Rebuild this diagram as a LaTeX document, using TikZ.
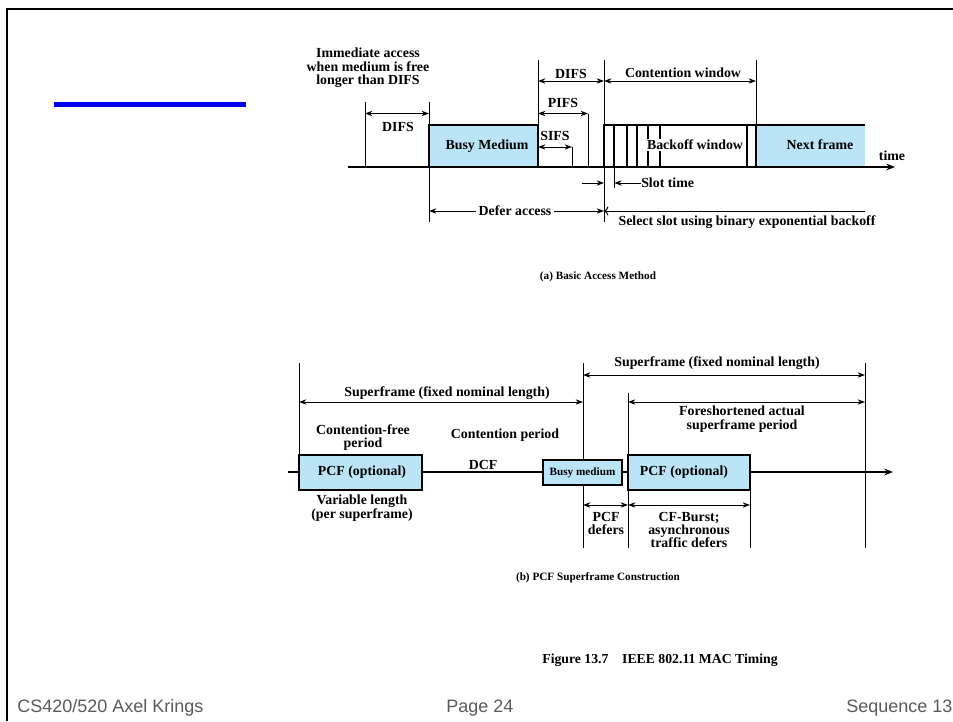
\documentclass[tikz,border=0pt]{standalone}
\usepackage{fontspec}
\setmainfont{Liberation Serif}
\newfontfamily\slidefont{Liberation Sans}
\usetikzlibrary{arrows.meta, positioning}
\definecolor{busyblue}{RGB}{187,228,246}
\definecolor{barblue}{RGB}{0,0,240}
\definecolor{footgray}{RGB}{90,90,90}

\begin{document}
\begin{tikzpicture}[
  x=0.75pt, y=-0.75pt,
  lbl/.style={font=\fontsize{10.4}{10}\selectfont\bfseries, align=center, inner sep=0pt},
  small/.style={font=\fontsize{8.4}{10}\selectfont\bfseries, align=center, inner sep=0pt},
  foot/.style={font=\slidefont\fontsize{13.5}{14}\selectfont, text=footgray, inner sep=0pt},
  frame/.style={draw, line width=1.8pt},
  axis/.style={line width=1.7pt, -{Stealth[length=6.5pt,width=5pt]}},
  tick/.style={line width=0.75pt},
  slotline/.style={line width=1.3pt},
  dim/.style={line width=0.75pt, {Stealth[length=5.5pt,width=4pt]}-{Stealth[length=5.5pt,width=4pt]}},
  rdim/.style={line width=0.75pt, -{Stealth[length=5.5pt,width=4pt]}}
]
\useasboundingbox (0,0) rectangle (953,721);

% slide frame and title bar
\draw[line width=1.7pt] (953,9) -- (7,9) -- (7,721);
\fill[barblue] (54,102) rectangle (246,107);

% (a) basic access method
\coordinate (axL) at (348,167);
\coordinate (axR) at (895,167);
\coordinate (tA) at (365,167);
\coordinate (tB) at (429,167);
\coordinate (tC) at (538,167);
\coordinate (tS) at (572,167);
\coordinate (tP) at (588,167);
\coordinate (tD) at (604,167);
\coordinate (tQ) at (614.3,167);
\coordinate (tW) at (756,167);
\coordinate (tN) at (865,167);
\coordinate (rTop) at (0,60);
\coordinate (rCw) at (0,81);
\coordinate (rLeft) at (0,102);
\coordinate (rDifs) at (0,113.5);
\coordinate (rBox) at (0,125);
\coordinate (rSifs) at (0,147);
\coordinate (rSlot) at (0,183);
\coordinate (rSlotEnd) at (0,188);
\coordinate (rDefer) at (0,211);
\coordinate (rBot) at (0,222);

\fill[busyblue] (tB |- rBox) rectangle (tC);
\fill[busyblue] (tW |- rBox) rectangle (tN);

\draw[tick] (tA |- rLeft) -- (tA);
\draw[tick] (tB |- rLeft) -- (tB |- rBot);
\draw[tick] (tC |- rTop) -- (tC);
\draw[tick] (tS |- rSifs) -- (tS);
\draw[tick] (tP |- rDifs) -- (tP);
\draw[tick] (tD |- rTop) -- (tD |- rBot);
\draw[tick] (tW |- rTop) -- (tW |- rBox);
\draw[tick] (tQ) -- (tQ |- rSlotEnd);

\foreach \x in {614.3,626.7,636.7,648.3,660,746.7}
  \draw[slotline] (\x,125) -- (\x,167);

\draw[frame] (tB) -- (tB |- rBox) -- (tC |- rBox) -- (tC);
\draw[frame] (tD |- rBox) rectangle (tW);
\draw[frame] (tW |- rBox) -- (tN |- rBox);
\draw[axis] (axL) -- (axR);

\node[lbl] (immed) at (368,68) {Immediate access\\when medium is free\\longer than DIFS};
\draw[dim] (tA |- rDifs) -- (tB |- rDifs);
\node[lbl] (difsL) at (398,127) {DIFS};
\draw[dim] (tC |- rCw) -- (tD |- rCw);
\node[lbl] (difsT) at (571,74) {DIFS};
\draw[dim] (tD |- rCw) -- (tW |- rCw);
\node[lbl] (cwin) at (683,73) {Contention window};
\draw[dim] (tC |- rDifs) -- (tP |- rDifs);
\node[lbl] (pifs) at (563,103) {PIFS};
\draw[dim] (tC |- rSifs) -- (tS |- rSifs);
\node[lbl] (sifs) at (555,136) {SIFS};
\node[lbl] (busy) at (487,146) {Busy Medium};
\node[lbl, fill=white, inner sep=0.6pt] (backoff) at (695,145) {Backoff window};
\node[lbl] (next) at (820,145) {Next frame};
\node[lbl] (time) at (892,156) {time};

\coordinate (slotIn) at (582,183);
\draw[rdim] (slotIn) -- (tD |- rSlot);
\node[lbl, anchor=west] (slottime) at (641,183) {Slot time};
\draw[rdim] (slottime.west) -- (tQ |- rSlot);

\draw[dim] (tB |- rDefer) -- (tD |- rDefer);
\node[lbl, fill=white, inner sep=2pt] (defer) at (515,211) {Defer access};
\draw[rdim, <-] (tD |- rDefer) -- (tN |- rDefer);
\node[lbl] (select) at (747,222) {Select slot using binary exponential backoff};

\node[small] (capA) at (598,277) {(a) Basic Access Method};

% (b) PCF superframe construction
\coordinate (bxL) at (288,472);
\coordinate (bxR) at (893,472);
\coordinate (u0) at (299,472);
\coordinate (u1) at (422,472);
\coordinate (u2) at (543,472);
\coordinate (u3) at (583,472);
\coordinate (u4) at (622,472);
\coordinate (u5) at (628,472);
\coordinate (u6) at (750,472);
\coordinate (u7) at (865,472);
\coordinate (sTop) at (0,363);
\coordinate (sSup2) at (0,375);
\coordinate (sFore) at (0,393);
\coordinate (sSup1) at (0,402);
\coordinate (sBoxT) at (0,455);
\coordinate (sBusyT) at (0,460);
\coordinate (sBusyB) at (0,485);
\coordinate (sBoxB) at (0,490);
\coordinate (sDim) at (0,505);
\coordinate (sBot) at (0,548);

\draw[tick] (u0 |- sTop) -- (u0 |- sBoxT);
\draw[tick] (u3 |- sTop) -- (u3 |- sBot);
\draw[tick] (u5 |- sFore) -- (u5 |- sBot);
\draw[tick] (u6 |- sBoxB) -- (u6 |- sBot);
\draw[tick] (u7 |- sTop) -- (u7 |- sBot);
\draw[axis] (bxL) -- (bxR);

\draw[frame, fill=busyblue] (u0 |- sBoxT) rectangle (u1 |- sBoxB);
\draw[frame, fill=busyblue] (u2 |- sBusyT) rectangle (u4 |- sBusyB);
\draw[frame, fill=busyblue] (u5 |- sBoxT) rectangle (u6 |- sBoxB);
\node[lbl] (pcf1) at (362,472) {PCF (optional)};
\node[small] (busym) at (582.5,472.5) {Busy medium};
\node[lbl] (pcf2) at (684,472) {PCF (optional)};

\draw[dim] (u0 |- sSup1) -- (u3 |- sSup1);
\node[lbl] (sup1) at (447,393) {Superframe (fixed nominal length)};
\draw[dim] (u3 |- sSup2) -- (u7 |- sSup2);
\node[lbl] (sup2) at (717,363) {Superframe (fixed nominal length)};
\draw[dim] (u5 |- sSup1) -- (u7 |- sSup1);
\node[lbl] (fore) at (742,419) {Foreshortened actual\\superframe period};

\node[lbl] (cfree) at (363,437.5) {Contention-free\\period};
\node[lbl] (cper) at (505,435) {Contention period};
\node[lbl] (dcf) at (483,465) {DCF};
\node[lbl] (varlen) at (362,508) {Variable length\\(per superframe)};

\draw[dim] (u3 |- sDim) -- (u5 |- sDim);
\node[lbl] (pcfdef) at (606,523.5) {PCF\\defers};
\draw[dim] (u5 |- sDim) -- (u6 |- sDim);
\node[lbl] (cfburst) at (689,530) {CF-Burst;\\asynchronous\\traffic defers};

\node[small] (capB) at (598,578) {(b) PCF Superframe Construction};

% caption and footer
\node[font=\fontsize{10.3}{12}\selectfont\bfseries, inner sep=0pt] (fig) at (660,660) {Figure 13.7\quad IEEE 802.11 MAC Timing};
\node[foot, anchor=west] (course) at (17,708) {CS420/520 Axel Krings};
\node[foot] (page) at (480,708) {Page 24};
\node[foot, anchor=west] (seq) at (846,708) {Sequence 13};
\end{tikzpicture}
\end{document}
